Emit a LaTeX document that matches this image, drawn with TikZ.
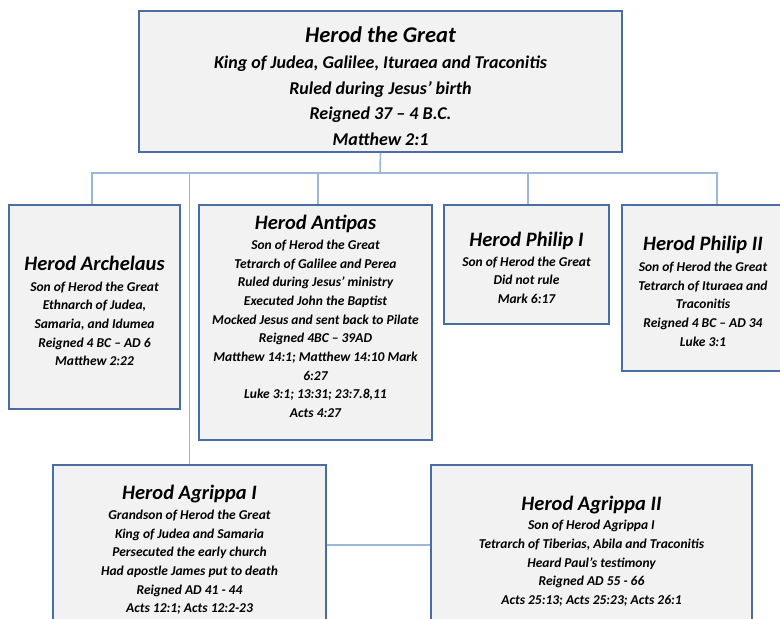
\documentclass[tikz,border=0pt]{standalone}
\usepackage{fontspec}
\setmainfont{Carlito}
\definecolor{boxborder}{RGB}{74,110,163}
\definecolor{boxfill}{RGB}{242,242,242}
\definecolor{connblue}{RGB}{155,184,220}
\newcommand{\ttlsize}{\fontsize{20.5}{22}\selectfont}
\begin{document}
\begin{tikzpicture}[x=1pt,y=-1pt,
  box/.style={draw=boxborder, line width=2pt, fill=boxfill, inner sep=0pt},
  txt/.style={align=center, inner sep=0pt,
    font=\bfseries\itshape\fontsize{13.5}{18.7}\selectfont},
  bigtxt/.style={txt, font=\bfseries\itshape\fontsize{18}{25.5}\selectfont},
  conn/.style={draw=connblue, line width=1.6pt}]
\useasboundingbox (0,0) rectangle (780,619);
\clip (0,0) rectangle (780,619);
\fill[white] (0,0) rectangle (780,619);

\coordinate (bus) at (380,173);

\node[box, minimum width=483pt, minimum height=141pt] (great) at (380.5,81.5) {};
\node[bigtxt] (great-t) at ([yshift=-4.5pt]great.center)
 {\fontsize{22.5}{25}\selectfont Herod the Great\\[1pt]
  King of Judea, Galilee, Ituraea and Traconitis\\
  Ruled during Jesus’ birth\\
  Reigned 37 – 4 B.C.\\
  Matthew 2:1};

\node[box, minimum width=171pt, minimum height=204pt] (arch) at (94.5,307) {};
\node[txt] (arch-t) at ([yshift=-4pt]arch.center)
 {\ttlsize Herod Archelaus\\[2pt]
  Son of Herod the Great\\
  Ethnarch of Judea,\\
  Samaria, and Idumea\\
  Reigned 4 BC – AD 6\\
  Matthew 2:22};

\node[box, minimum width=233pt, minimum height=235pt] (antipas) at (315.5,322.5) {};
\node[txt] (antipas-t) at ([yshift=6pt]antipas.center)
 {\ttlsize Herod Antipas\\[1pt]
  Son of Herod the Great\\
  Tetrarch of Galilee and Perea\\
  Ruled during Jesus’ ministry\\
  Executed John the Baptist\\
  Mocked Jesus and sent back to Pilate\\
  Reigned 4BC – 39AD\\
  Matthew 14:1; Matthew 14:10 Mark\\
  6:27\\
  Luke 3:1; 13:31; 23:7.8,11\\
  Acts 4:27};

\node[box, minimum width=165pt, minimum height=119pt] (philip1) at (526.5,264.5) {};
\node[txt] (philip1-t) at ([yshift=-3.5pt]philip1.center)
 {\ttlsize Herod Philip I\\[1pt]
  Son of Herod the Great\\
  Did not rule\\
  Mark 6:17};

\node[box, minimum width=162pt, minimum height=166pt] (philip2) at (703,288) {};
\node[txt] (philip2-t) at ([yshift=-3.5pt]philip2.center)
 {\ttlsize Herod Philip II\\[2pt]
  Son of Herod the Great\\
  Tetrarch of Ituraea and\\
  Traconitis\\
  Reigned 4 BC – AD 34\\
  Luke 3:1};

\node[box, minimum width=273pt, minimum height=170pt] (agrippa1) at (189.5,550) {};
\node[txt] (agrippa1-t) at (agrippa1.center)
 {\ttlsize Herod Agrippa I\\[1pt]
  Grandson of Herod the Great\\
  King of Judea and Samaria\\
  Persecuted the early church\\
  Had apostle James put to death\\
  Reigned AD 41 - 44\\
  Acts 12:1; Acts 12:2-23};

\node[box, minimum width=321pt, minimum height=172pt] (agrippa2) at (591.5,551) {};
\node[txt] (agrippa2-t) at (agrippa2.center)
 {\ttlsize Herod Agrippa II\\[1pt]
  Son of Herod Agrippa I\\
  Tetrarch of Tiberias, Abila and Traconitis\\
  Heard Paul’s testimony\\
  Reigned AD 55 - 66\\
  Acts 25:13; Acts 25:23; Acts 26:1};

\draw[conn] (great.south) -- (bus);
\draw[conn] ([xshift=-2.5pt]arch.north) -- ([xshift=-2.5pt]arch.north |- bus) -- ([xshift=14pt]philip2.north |- bus) -- ([xshift=14pt]philip2.north);
\draw[conn] ([xshift=2.5pt]antipas.north |- bus) -- ([xshift=2.5pt]antipas.north);
\draw[conn] ([xshift=1.5pt]philip1.north |- bus) -- ([xshift=1.5pt]philip1.north);
\draw[conn] (agrippa1.north |- bus) -- (agrippa1.north);
\draw[conn] ([yshift=5pt]agrippa1.east) -- ([yshift=5pt]agrippa1.east -| agrippa2.west);
\end{tikzpicture}
\end{document}
